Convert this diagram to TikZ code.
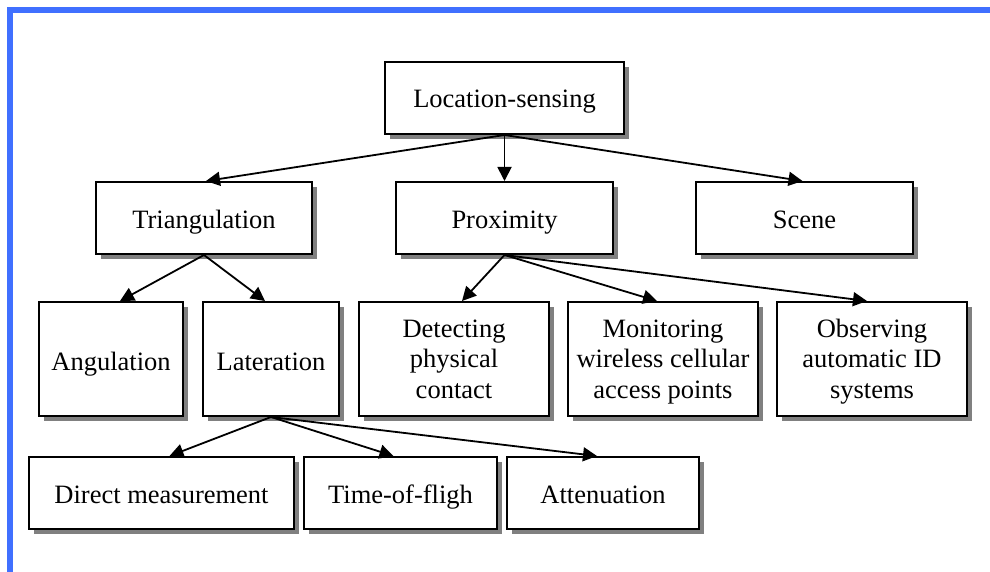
\documentclass[tikz,border=0pt]{standalone}
\usepackage{fontspec}
\setmainfont{Liberation Serif}
\usetikzlibrary{arrows.meta,shadows}
\definecolor{frameblue}{RGB}{64,112,255}
\definecolor{shadowgray}{RGB}{128,128,128}
\begin{document}
\begin{tikzpicture}[x=1pt,y=-1pt,
  box/.style={draw=black, fill=white, line width=2pt, rectangle, inner sep=0pt,
    align=center, font=\fontsize{26.5}{30.5}\selectfont,
    drop shadow={shadow xshift=5pt, shadow yshift=-5pt, fill=shadowgray, opacity=1}},
  wide/.style={minimum height=72pt, text height=22pt, text depth=2pt},
  tall/.style={minimum height=114pt, text height=80pt, text depth=2pt},
  tallone/.style={minimum height=114pt, text height=24pt, text depth=2pt},
  link/.style={line width=1.8pt, -{Triangle[length=14pt,width=14pt]}}]
\useasboundingbox (0,0) rectangle (990,572);
\fill[white] (0,0) rectangle (990,572);
% frame
\fill[frameblue] (7,7) rectangle (990,13);
\fill[frameblue] (7,7) rectangle (13,572);

% level 0
\node[box, wide, minimum width=239pt] (loc) at (504.5,98) {Location-sensing};
% level 1
\node[box, wide, minimum width=216pt] (tri) at (204,218) {Triangulation};
\node[box, wide, minimum width=217pt] (prox) at (504.5,218) {Proximity};
\node[box, wide, minimum width=217pt] (scene) at (804.5,218) {Scene};
% level 2
\node[box, tallone, minimum width=144pt] (ang) at (111,359) {Angulation};
\node[box, tallone, minimum width=136pt] (lat) at (271,359) {Lateration};
\node[box, tall, minimum width=190pt] (det) at (454,359) {Detecting\\physical\\contact};
\node[box, tall, minimum width=190pt] (mon) at (663,359) {Monitoring\\wireless cellular\\access points};
\node[box, tall, minimum width=190pt] (obs) at (872,359) {Observing\\automatic ID\\systems};
% level 3
\node[box, wide, minimum width=265pt] (dir) at (161.5,493) {Direct measurement};
\node[box, wide, minimum width=193pt] (tof) at (400.5,493) {Time-of-fligh};
\node[box, wide, minimum width=192pt] (att) at (603,493) {Attenuation};

% connectors
\draw[link] (loc.south) -- ([xshift=2pt]tri.north);
\draw[link] (loc.south) -- (prox.north);
\draw[link] (loc.south) -- ([xshift=-2pt]scene.north);
\draw[link] (tri.south) -- ([xshift=9pt]ang.north);
\draw[link] (tri.south) -- ([xshift=-6pt]lat.north);
\draw[link] (prox.south) -- ([xshift=8pt]det.north);
\draw[link] (prox.south) -- ([xshift=-6pt]mon.north);
\draw[link] (prox.south) -- ([xshift=-5pt]obs.north);
\draw[link] (lat.south) -- ([xshift=8pt]dir.north);
\draw[link] (lat.south) -- ([xshift=-7pt]tof.north);
\draw[link] (lat.south) -- ([xshift=-6pt]att.north);
\end{tikzpicture}
\end{document}
